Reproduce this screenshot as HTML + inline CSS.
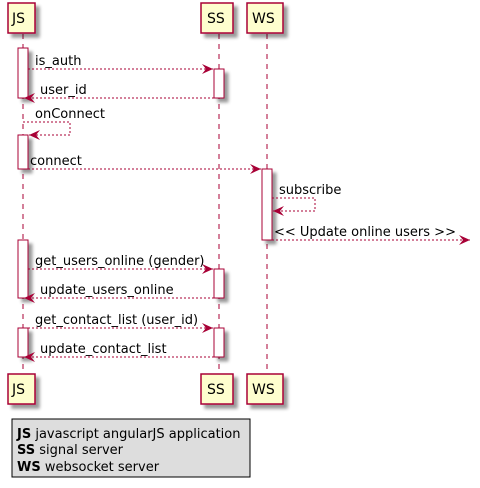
<!DOCTYPE html>
<html><head><style>body{margin:0;background:#fff}svg{display:block}</style></head>
<body>
<svg width="480" height="488" xmlns="http://www.w3.org/2000/svg" font-family="'DejaVu Sans','Liberation Sans',sans-serif" font-size="13">
<defs>
<filter id="sh" x="-20%" y="-20%" width="160%" height="160%"><feGaussianBlur in="SourceAlpha" stdDeviation="1.5"/><feOffset dx="4" dy="4"/><feComponentTransfer><feFuncA type="linear" slope="0.4"/></feComponentTransfer><feMerge><feMergeNode/><feMergeNode in="SourceGraphic"/></feMerge></filter>
<marker id="ah" markerWidth="12" markerHeight="10" refX="11" refY="5" orient="auto" markerUnits="userSpaceOnUse"><path d="M0,0 L11,5 L0,10 L4,5 Z" fill="#A80036"/></marker>
</defs>
<g stroke="#A80036" stroke-dasharray="5,5" stroke-width="1">
<line x1="23" y1="34" x2="23" y2="374"/><line x1="219" y1="34" x2="219" y2="374"/><line x1="267" y1="34" x2="267" y2="374"/>
</g>
<g fill="#FEFECE" stroke="#A80036" stroke-width="1.5" filter="url(#sh)">
<rect x="8" y="3" width="27" height="30"/><rect x="201" y="3" width="32" height="30"/><rect x="247" y="3" width="36" height="30"/>
<rect x="8" y="374" width="27" height="30"/><rect x="201" y="374" width="32" height="30"/><rect x="247" y="374" width="36" height="30"/>
</g>
<g font-size="14" fill="#000">
<text x="12" y="23">JS</text><text x="207" y="23">SS</text><text x="252" y="23">WS</text>
<text x="12" y="394">JS</text><text x="207" y="394">SS</text><text x="252" y="394">WS</text>
</g>
<g fill="#fff" stroke="#A80036" stroke-width="1" filter="url(#sh)">
<rect x="18" y="48" width="10" height="50"/><rect x="214" y="69" width="10" height="29"/>
<rect x="18" y="135" width="10" height="34"/><rect x="262" y="169" width="10" height="71"/>
<rect x="18" y="240" width="10" height="58"/><rect x="214" y="269" width="10" height="29"/>
<rect x="18" y="328" width="10" height="29"/><rect x="214" y="328" width="10" height="29"/>
</g>
<g stroke="#A80036" stroke-dasharray="2,2" fill="none" marker-end="url(#ah)">
<line x1="28" y1="69" x2="213" y2="69"/>
<line x1="214" y1="98" x2="24" y2="98"/>
<polyline points="23,122 70,122 70,135 29,135"/>
<line x1="28" y1="169" x2="261" y2="169"/>
<polyline points="272,198 315,198 315,211 273,211"/>
<line x1="272" y1="240" x2="470" y2="240"/>
<line x1="28" y1="269" x2="213" y2="269"/>
<line x1="214" y1="298" x2="24" y2="298"/>
<line x1="28" y1="328" x2="213" y2="328"/>
<line x1="214" y1="357" x2="24" y2="357"/>
</g>
<g fill="#000">
<text x="35" y="65">is_auth</text>
<text x="40" y="94">user_id</text>
<text x="35" y="118">onConnect</text>
<text x="30" y="165">connect</text>
<text x="279" y="194">subscribe</text>
<text x="274" y="236">&lt;&lt; Update online users &gt;&gt;</text>
<text x="35" y="265">get_users_online (gender)</text>
<text x="40" y="294">update_users_online</text>
<text x="35" y="324">get_contact_list (user_id)</text>
<text x="40" y="353">update_contact_list</text>
</g>
<rect x="12" y="419" width="238" height="58" fill="#DDDDDD" stroke="#000" stroke-width="1"/>
<g font-size="13" fill="#000">
<text x="17" y="438"><tspan font-weight="bold">JS</tspan> javascript angularJS application</text>
<text x="17" y="454"><tspan font-weight="bold">SS</tspan> signal server</text>
<text x="17" y="471"><tspan font-weight="bold">WS</tspan> websocket server</text>
</g>
</svg>
</body></html>
